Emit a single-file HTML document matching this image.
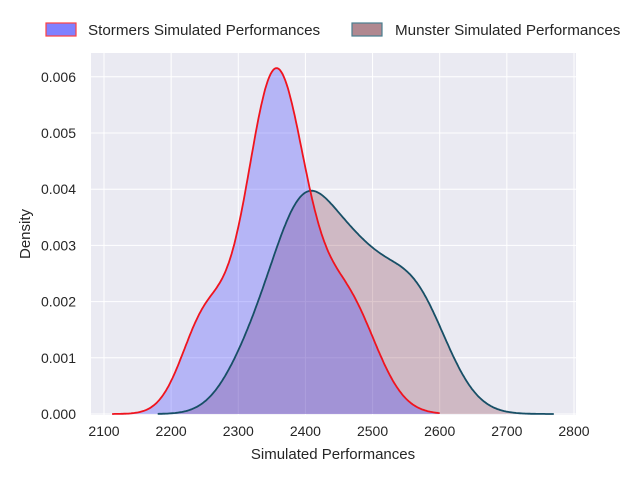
<!DOCTYPE html>
<html><head><style>body{margin:0;background:#fff}svg{display:block;font-family:"Liberation Sans",sans-serif}</style></head><body>
<svg id="s" width="640" height="480" xmlns="http://www.w3.org/2000/svg">
<rect x="91" y="53" width="485" height="362" fill="#eaeaf2"/>
<g id="grid" stroke="#fff" stroke-width="1"></g>
<path id="mf" fill="rgba(128,40,60,0.25)" stroke="none"/>
<path id="sf" fill="rgba(60,60,255,0.3)" stroke="none"/>
<path id="ml" fill="none" stroke="#174f66" stroke-width="1.8"/>
<path id="sl" fill="none" stroke="#f0141e" stroke-width="1.8"/>
<g id="lab" font-size="14" fill="#262626"></g>
<text x="333" y="459" font-size="15" fill="#262626" text-anchor="middle">Simulated Performances</text>
<text x="30" y="234" font-size="15" fill="#262626" text-anchor="middle" transform="rotate(-90 30 234)">Density</text>
<rect x="46" y="23" width="30" height="13" fill="#8080ff" stroke="#ff4040" stroke-width="1.2"/>
<text x="88" y="35" font-size="15.2" fill="#262626">Stormers Simulated Performances</text>
<rect x="352" y="23" width="30" height="13" fill="#b08890" stroke="#4a7f90" stroke-width="1.2"/>
<text x="395" y="35" font-size="15.2" fill="#262626">Munster Simulated Performances</text>
</svg>
<script>
var X=function(v){return 104+(v-2100)*0.6714},Y=function(d){return 414-d*56200};
var g=document.getElementById('grid'),l=document.getElementById('lab'),h='',t='';
for(var v=2100;v<=2800;v+=100){h+='<line x1="'+X(v)+'" y1="53" x2="'+X(v)+'" y2="415"/>';t+='<text x="'+X(v)+'" y="436" text-anchor="middle">'+v+'</text>';}
for(var i=0;i<=6;i++){var y=Y(i*0.001);h+='<line x1="91" y1="'+y+'" x2="576" y2="'+y+'"/>';t+='<text x="76" y="'+(y+5)+'" text-anchor="end">'+(i*0.001).toFixed(3)+'</text>';}
g.innerHTML=h;l.innerHTML=t;
function G(x,m,s,a){return a*Math.exp(-(x-m)*(x-m)/(2*s*s));}
function S(x){return G(x,2355,44,0.0060)+G(x,2250,35,0.0016)+G(x,2460,45,0.002);}
function M(x){return G(x,2395,48,0.0034)+G(x,2560,50,0.0021)+G(x,2475,45,0.0019)+G(x,2315,40,0.0007);}
function mk(f,a,b){var p='';for(var x=a;x<=b;x+=2){p+=(p?'L':'M')+X(x).toFixed(1)+','+Y(f(x)).toFixed(1);}return p;}
var sp=mk(S,2112,2600),mp=mk(M,2180,2770);
document.getElementById('sl').setAttribute('d',sp);document.getElementById('ml').setAttribute('d',mp);
document.getElementById('sf').setAttribute('d',sp+'L'+X(2600)+','+Y(0)+'L'+X(2112)+','+Y(0)+'Z');
document.getElementById('mf').setAttribute('d',mp+'L'+X(2770)+','+Y(0)+'L'+X(2180)+','+Y(0)+'Z');
</script>
</body></html>
